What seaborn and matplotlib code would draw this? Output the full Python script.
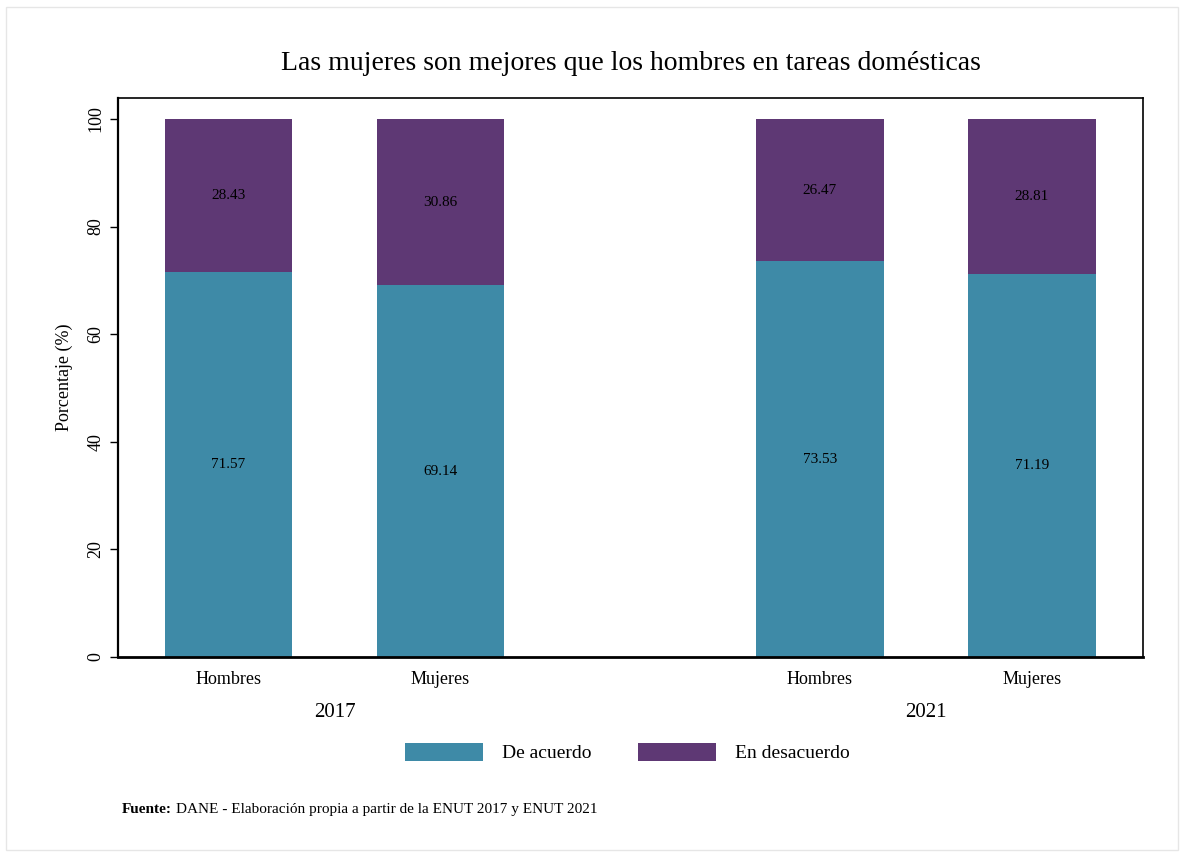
import numpy as np
import pandas as pd
import matplotlib.pyplot as plt
from matplotlib.patches import Patch, Rectangle
from matplotlib.transforms import blended_transform_factory
import seaborn as sns

sns.set_theme(style="white")
plt.rcParams["font.family"] = ["Liberation Serif", "DejaVu Serif"]
plt.rcParams["text.color"] = "black"
plt.rcParams["axes.labelcolor"] = "black"
plt.rcParams["xtick.color"] = "black"
plt.rcParams["ytick.color"] = "black"

years = ["2017", "2017", "2021", "2021"]
sexes = ["Hombres", "Mujeres", "Hombres", "Mujeres"]
de_acuerdo = [71.57, 69.14, 73.53, 71.19]
en_desacuerdo = [28.43, 30.86, 26.47, 28.81]
legend_labels = ["De acuerdo", "En desacuerdo"]
title = "Las mujeres son mejores que los hombres en tareas domésticas"

blue = "#3E8AA7"
purple = "#5E3874"

# bar slots: two per year, wider gap between years
pos = np.array([0.0, 1.0, 2.79, 3.79])
df = pd.DataFrame({"pos": pos, "year": years, "sex": sexes,
                   "acuerdo": de_acuerdo, "desacuerdo": en_desacuerdo})
df["total"] = df["acuerdo"] + df["desacuerdo"]

fig = plt.figure(figsize=(11.84, 8.57), dpi=100)
ax = fig.add_axes([0.0997, 0.2334, 0.8657, 0.6522])

sns.barplot(data=df, x="pos", y="total", native_scale=True, width=0.6,
            color=purple, saturation=1, ax=ax, linewidth=0)
sns.barplot(data=df, x="pos", y="acuerdo", native_scale=True, width=0.6,
            color=blue, saturation=1, ax=ax, linewidth=0)

for _, r in df.iterrows():
    ax.text(r["pos"], r["acuerdo"] / 2, f"{r['acuerdo']:.2f}",
            ha="center", va="center", fontsize=11, color="black")
    ax.text(r["pos"], r["acuerdo"] + r["desacuerdo"] / 2, f"{r['desacuerdo']:.2f}",
            ha="center", va="center", fontsize=11, color="black")

ax.set_xlim(-0.521, 4.314)
ax.set_ylim(0, 103.9)
ax.set_xticks(pos)
ax.set_xticklabels(sexes, fontsize=13)
ax.set_yticks([0, 20, 40, 60, 80, 100])
ax.set_yticklabels(["0", "20", "40", "60", "80", "100"], fontsize=13,
                   rotation=90, va="center")
ax.tick_params(axis="y", which="both", left=True, length=6, width=1,
               color="black", pad=4)
ax.tick_params(axis="x", length=0, pad=10)
ax.set_xlabel("")
ax.set_ylabel("Porcentaje (%)", fontsize=13, labelpad=10)
for side, sp in ax.spines.items():
    sp.set_color("black")
    sp.set_linewidth(1.2)
ax.spines["bottom"].set_linewidth(2)
ax.spines["left"].set_linewidth(1.6)

trans = blended_transform_factory(ax.transData, ax.transAxes)
for y in dict.fromkeys(years):
    xs = df.loc[df["year"] == y, "pos"].mean()
    ax.text(xs, -0.1, y, transform=trans, ha="center", va="center", fontsize=15)

fig.text(0.5325, 0.926, title, ha="center", va="center", fontsize=20)

handles = [Patch(facecolor=blue, edgecolor="none"),
           Patch(facecolor=purple, edgecolor="none")]
fig.legend(handles, legend_labels, loc="center", bbox_to_anchor=(0.53, 0.122),
           ncol=2, frameon=False, fontsize=14, handlelength=4.0,
           handleheight=1.05, handletextpad=1.0, columnspacing=2.4)

src = fig.text(0.103, 0.055, "Fuente:", fontsize=11, fontweight="bold",
               ha="left", va="center")
fig.canvas.draw()
bb = src.get_window_extent()
fig.text(bb.x1 / fig.bbox.width + 0.003, 0.055,
         "DANE - Elaboración propia a partir de la ENUT 2017 y ENUT 2021",
         fontsize=11, ha="left", va="center")

fig.patches.append(Rectangle((0.005, 0.008), 0.99, 0.984, transform=fig.transFigure,
                             fill=False, edgecolor="#e6e6e6", linewidth=1))

fig.savefig("out.png", dpi=100)
